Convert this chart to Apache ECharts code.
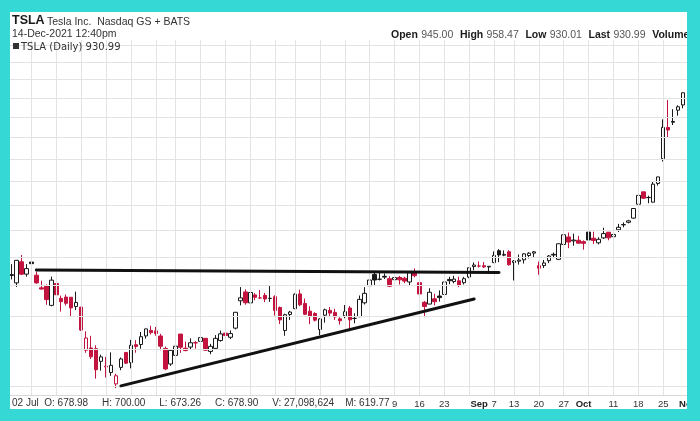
<!DOCTYPE html>
<html>
<head>
<meta charset="utf-8">
<script src="https://cdn.jsdelivr.net/npm/echarts@6/dist/echarts.min.js"></script>
<style>
html,body{margin:0;padding:0;background:#ffffff;}
#chart{width:700px;height:421px;}
</style>
</head>
<body>
<div id="chart"></div>
<script>
// ---- data (TSLA daily) ----
const dates = [
'2021-04-20','2021-04-21','2021-04-22','2021-04-23',
'2021-04-26','2021-04-27','2021-04-28','2021-04-29','2021-04-30',
'2021-05-03','2021-05-04','2021-05-05','2021-05-06','2021-05-07',
'2021-05-10','2021-05-11','2021-05-12','2021-05-13','2021-05-14',
'2021-05-17','2021-05-18','2021-05-19','2021-05-20','2021-05-21',
'2021-05-24','2021-05-25','2021-05-26','2021-05-27','2021-05-28',
'2021-06-01','2021-06-02','2021-06-03','2021-06-04',
'2021-06-07','2021-06-08','2021-06-09','2021-06-10','2021-06-11',
'2021-06-14','2021-06-15','2021-06-16','2021-06-17','2021-06-18',
'2021-06-21','2021-06-22','2021-06-23','2021-06-24','2021-06-25',
'2021-06-28','2021-06-29','2021-06-30','2021-07-01','2021-07-02',
'2021-07-06','2021-07-07','2021-07-08','2021-07-09',
'2021-07-12','2021-07-13','2021-07-14','2021-07-15','2021-07-16',
'2021-07-19','2021-07-20','2021-07-21','2021-07-22','2021-07-23',
'2021-07-26','2021-07-27','2021-07-28','2021-07-29','2021-07-30',
'2021-08-02','2021-08-03','2021-08-04','2021-08-05','2021-08-06',
'2021-08-09','2021-08-10','2021-08-11','2021-08-12','2021-08-13',
'2021-08-16','2021-08-17','2021-08-18','2021-08-19','2021-08-20',
'2021-08-23','2021-08-24','2021-08-25','2021-08-26','2021-08-27',
'2021-08-30','2021-08-31','2021-09-01','2021-09-02','2021-09-03',
'2021-09-07','2021-09-08','2021-09-09','2021-09-10',
'2021-09-13','2021-09-14','2021-09-15','2021-09-16','2021-09-17',
'2021-09-20','2021-09-21','2021-09-22','2021-09-23','2021-09-24',
'2021-09-27','2021-09-28','2021-09-29','2021-09-30','2021-10-01',
'2021-10-04','2021-10-05','2021-10-06','2021-10-07','2021-10-08',
'2021-10-11','2021-10-12','2021-10-13','2021-10-14','2021-10-15',
'2021-10-18','2021-10-19','2021-10-20','2021-10-21','2021-10-22',
'2021-10-25','2021-10-26','2021-10-27','2021-10-28','2021-10-29',
'2021-11-01'
];
const opens = [
717.42,704.77,741.50,719.80,
741.00,717.96,696.41,699.51,667.59,
703.80,678.94,681.06,680.76,665.80,
664.90,599.24,602.49,601.54,583.41,
575.55,568.00,552.55,575.00,596.11,
581.60,607.31,607.56,620.24,628.50,
627.80,620.13,601.80,579.71,
591.83,623.01,602.17,603.88,610.23,
612.23,616.69,597.54,601.89,613.37,
624.48,618.25,632.00,674.99,689.58,
671.64,684.65,679.77,683.92,678.98,
681.71,664.27,628.37,653.18,
662.20,686.32,670.75,658.39,654.68,
629.89,651.99,659.61,656.44,646.36,
650.97,663.40,647.00,649.79,671.76,
700.00,719.00,711.00,716.00,711.90,
710.17,713.99,712.71,706.34,723.71,
705.07,672.66,669.75,678.21,682.85,
685.44,710.68,707.03,708.31,705.00,
714.72,733.00,734.08,734.50,732.25,
740.00,761.58,753.41,759.60,
740.21,742.57,745.00,752.83,757.15,
734.56,734.79,743.53,755.00,745.89,
773.12,787.20,779.80,781.00,778.40,
796.50,784.80,776.20,785.46,796.21,
787.65,800.93,810.47,815.49,823.74,
851.77,877.53,865.35,856.00,895.50,
950.53,1024.69,1039.66,1068.31,1081.86,
null
];
const highs = [
737.25,744.84,753.77,737.36,
749.30,724.00,708.50,702.25,715.47,
706.00,683.45,685.30,681.02,690.00,
665.05,627.10,620.41,606.46,592.87,
589.73,596.25,566.21,588.85,596.68,
614.48,613.99,626.17,631.13,635.59,
633.80,623.36,604.55,600.61,
610.00,623.09,611.79,616.59,612.56,
625.49,616.79,608.50,621.47,628.35,
631.39,628.57,657.20,697.62,693.81,
694.70,687.51,692.81,687.99,700.00,
684.00,665.70,654.43,658.91,
687.24,693.28,678.61,666.14,656.70,
647.20,662.39,664.86,662.17,648.80,
668.20,666.50,654.97,683.69,697.53,
726.94,722.65,724.90,720.95,716.33,
719.03,716.59,715.18,722.80,729.90,
709.50,674.58,695.77,686.55,692.13,
712.13,715.22,716.97,715.40,715.00,
731.00,740.39,741.99,740.97,734.00,
760.20,764.45,762.10,762.61,
744.78,754.47,756.86,758.91,761.04,
742.00,744.74,753.67,758.20,774.80,
799.00,795.64,793.50,789.13,780.78,
806.97,797.31,786.66,805.00,796.38,
801.24,812.32,815.41,820.25,843.21,
874.00,877.95,869.49,900.00,910.00,
1045.02,1094.94,1070.88,1081.00,1115.21,
null
];
const lows = [
710.69,698.00,718.04,715.46,
732.61,703.35,693.60,668.50,666.14,
680.50,657.70,667.34,650.00,660.22,
627.61,595.60,586.77,559.65,570.46,
561.20,563.38,546.98,571.07,580.00,
573.65,595.71,601.50,616.21,622.38,
620.55,599.14,571.22,577.20,
582.88,595.50,597.63,600.50,601.52,
609.18,598.23,593.50,601.34,611.80,
608.88,615.50,630.04,667.61,668.70,
670.32,675.89,678.14,672.80,673.26,
651.40,638.32,620.46,644.69,
662.16,666.30,652.84,637.88,642.20,
621.29,640.50,650.29,644.60,637.30,
647.11,627.24,639.40,648.80,669.00,
698.40,701.01,708.93,711.41,697.63,
705.13,701.88,704.21,699.40,714.34,
676.40,648.84,669.35,667.59,673.70,
685.23,702.64,704.00,697.62,702.10,
712.73,726.44,731.27,730.54,724.20,
739.26,740.77,751.63,734.52,
708.85,736.40,738.36,747.61,750.00,
718.62,730.44,739.12,747.92,744.56,
769.31,766.18,770.68,775.00,763.59,
776.12,774.20,773.22,783.38,780.91,
785.50,796.57,805.78,813.35,822.35,
851.10,862.51,853.72,855.50,890.96,
944.20,1001.44,1030.78,1054.20,1073.21,
null
];
const closes = [
718.99,744.12,719.69,729.40,
738.20,704.74,694.40,677.00,709.44,
684.90,673.60,670.94,663.54,672.37,
629.04,617.20,589.89,571.69,589.74,
576.83,577.87,563.46,586.78,580.88,
606.44,604.69,619.13,630.85,625.22,
623.90,605.12,572.84,599.05,
605.13,603.59,598.78,610.12,609.89,
617.69,599.36,604.87,616.60,623.31,
620.83,623.71,656.57,679.82,671.87,
688.72,680.76,679.70,677.92,678.90,
659.58,644.65,652.81,656.95,
685.70,668.54,653.38,650.60,644.22,
646.22,660.50,655.29,649.26,643.38,
657.62,644.78,646.98,677.35,687.20,
709.67,709.74,710.92,714.63,699.10,
713.76,709.99,707.82,722.25,717.17,
686.17,665.71,688.99,673.47,680.26,
706.30,708.49,711.20,701.16,711.92,
730.91,735.72,734.09,732.39,733.57,
752.92,753.87,754.86,736.27,
743.00,744.49,755.83,756.99,759.49,
730.17,739.38,751.94,753.64,774.39,
791.36,777.56,781.31,775.48,775.22,
781.53,780.59,782.75,793.61,785.49,
791.94,805.72,811.08,818.32,843.03,
870.11,864.27,865.80,894.00,909.68,
1024.86,1018.43,1037.86,1077.04,1114.00,
null
];
// price grid lines ($50 steps) and x-axis tick labels
const gridPrices = [550,600,650,700,750,800,850,900,950,1000,1050,1100,1150,1200,1250];
const tickDates  = ['2021-08-09','2021-08-16','2021-08-23','2021-09-01','2021-09-07','2021-09-13','2021-09-20','2021-09-27','2021-10-01','2021-10-11','2021-10-18','2021-10-25','2021-11-01'];
const tickLabels = ['9','16','23','Sep','7','13','20','27','Oct','11','18','25','Nov'];
// drawn trend lines: [date, price] endpoints
const resistanceLine = [['2021-04-27', 727], ['2021-09-08', 722.5]];
const supportLine    = [['2021-05-20', 550], ['2021-08-31', 678]];

// ---- build ----
const RED = '#c3143f', BLK = '#1a1a1a';
const candles = dates.map((d, i) => {
  if (opens[i] == null) return '-';
  const o = opens[i], c = closes[i];
  const prev = i > 0 ? closes[i - 1] : o;
  const col = c < prev ? RED : BLK;
  const fill = c >= o ? '#ffffff' : col;
  return {
    value: [o, c, lows[i], highs[i]],
    itemStyle: { color: fill, color0: fill, borderColor: col, borderColor0: col, borderWidth: 1 }
  };
});
// first trading day of each week -> vertical grid lines
const weekStarts = [];
dates.forEach((d, i) => {
  if (i === 0) return;
  const a = new Date(dates[i - 1] + 'T00:00:00Z'), b = new Date(d + 'T00:00:00Z');
  if (b.getUTCDay() < a.getUTCDay() || (b - a) > 4 * 864e5) weekStarts.push(d);
});

const CYAN = '#36d8d6';
const FONT = '"Liberation Sans", Arial, sans-serif';
const chart = echarts.init(document.getElementById('chart'), null, { renderer: 'canvas' });
chart.setOption({
  animation: false,
  backgroundColor: '#ffffff',
  grid: { left: 9, right: 3.3, top: 40, bottom: 26 },
  xAxis: {
    type: 'category',
    data: dates,
    boundaryGap: true,
    axisLine: { show: true, lineStyle: { color: '#d8d8d8', width: 1 } },
    axisTick: { show: false },
    splitLine: { show: false },
    axisLabel: {
      show: true,
      interval: (idx, val) => tickDates.indexOf(val) >= 0,
      formatter: (val) => {
        const k = tickDates.indexOf(val);
        if (k < 0) return '';
        const t = tickLabels[k];
        return /^[A-Z]/.test(t) ? '{m|' + t + '}' : t;
      },
      margin: 4,
      fontSize: 9.5,
      fontFamily: FONT,
      color: '#333',
      rich: { m: { fontSize: 9.5, fontWeight: 'bold', color: '#222', fontFamily: FONT } }
    }
  },
  yAxis: {
    type: 'log',
    logBase: 10,
    min: 538,
    max: 1265,
    axisLine: { show: false },
    axisTick: { show: false },
    axisLabel: { show: false },
    splitLine: { show: false }
  },
  series: [
    {
      name: 'grid',
      type: 'line',
      data: [],
      z: 1,
      silent: true,
      markLine: {
        silent: true,
        symbol: ['none', 'none'],
        label: { show: false },
        lineStyle: { color: '#e3e3e3', width: 1, type: 'solid' },
        data: gridPrices.map(p => ({ yAxis: p })).concat(weekStarts.map(d => ({ xAxis: d })))
      }
    },
    {
      name: 'TSLA',
      type: 'candlestick',
      z: 3,
      barWidth: 4,
      clip: true,
      data: candles,
      markLine: {
        silent: true,
        symbol: ['none', 'none'],
        label: { show: false },
        lineStyle: { color: '#111111', width: 3, type: 'solid', cap: 'round' },
        data: [
          [{ coord: resistanceLine[0] }, { coord: resistanceLine[1] }],
          [{ coord: supportLine[0] }, { coord: supportLine[1] }]
        ]
      }
    }
  ],
  graphic: [
    { type: 'rect', z: 100, shape: { x: 0, y: 0, width: 700, height: 12 }, style: { fill: CYAN } },
    { type: 'rect', z: 100, shape: { x: 0, y: 409, width: 700, height: 12 }, style: { fill: CYAN } },
    { type: 'rect', z: 100, shape: { x: 0, y: 0, width: 10, height: 421 }, style: { fill: CYAN } },
    { type: 'rect', z: 100, shape: { x: 687, y: 0, width: 13, height: 421 }, style: { fill: CYAN } },
    { type: 'text', z: 50, left: 12, top: 14, style: { text: 'TSLA', font: 'bold 12.5px ' + FONT, fill: '#1a1a1a' } },
    { type: 'text', z: 50, left: 47, top: 17, style: { text: 'Tesla Inc.  Nasdaq GS + BATS', font: '10.5px ' + FONT, fill: '#333' } },
    { type: 'text', z: 50, left: 12, top: 29, style: { text: '14-Dec-2021 12:40pm', font: '10.5px ' + FONT, fill: '#333' } },
    { type: 'rect', z: 50, shape: { x: 13, y: 43, width: 6, height: 6 }, style: { fill: '#333' } },
    { type: 'text', z: 50, left: 21, top: 42, style: { text: 'TSLA (Daily) 930.99', font: '10px "DejaVu Sans", sans-serif', fill: '#333' } },
    { type: 'text', z: 50, left: 391, top: 29, style: {
        text: '{b|Open} {v|945.00}  {b|High} {v|958.47}  {b|Low} {v|930.01}  {b|Last} {v|930.99}  {b|Volume}',
        rich: {
          b: { font: 'bold 10.5px ' + FONT, fill: '#1a1a1a' },
          v: { font: '10.5px ' + FONT, fill: '#555' }
        }
      } },
    { type: 'text', z: 50, left: 12, top: 398, style: {
        text: '02 Jul  O: 678.98     H: 700.00     L: 673.26     C: 678.90     V: 27,098,624    M: 619.77',
        font: '10px ' + FONT, fill: '#333'
      } }
  ]
});
</script>
</body>
</html>
